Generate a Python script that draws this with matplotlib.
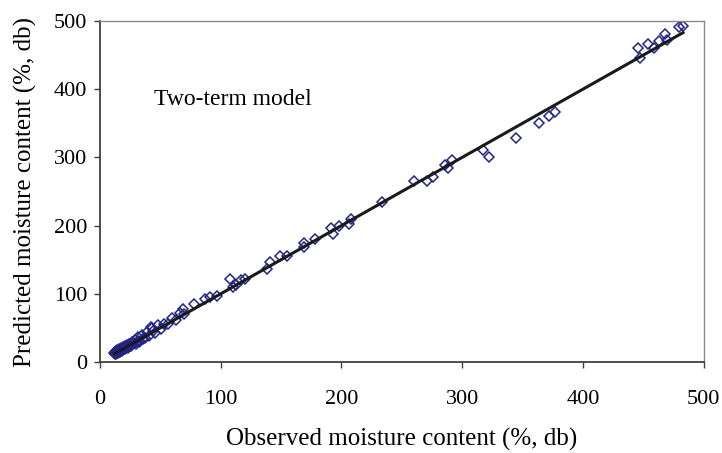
import matplotlib.pyplot as plt

plt.rcParams['font.family'] = ['Liberation Serif', 'DejaVu Serif']

# Observed vs predicted moisture content (%, db) for the two-term model
observed = [
    11.8, 12.2, 12.6, 13.0, 13.3, 13.7, 14.1, 14.5, 15.0, 15.4,
    15.9, 16.3, 16.8, 17.4, 18.0, 18.7, 19.5, 20.3, 21.2, 22.0,
    23.0, 24.1, 25.2, 26.4, 27.6, 28.9, 30.3, 31.8, 33.5, 35.2,
    37.0, 39.0, 41.0, 42.0, 43.2, 44.0, 45.5, 48.0, 50.5, 53.3,
    56.2, 59.5, 63.0, 66.5, 70.0,
    12.9, 14.8, 16.6, 18.4, 20.8, 23.6, 26.0, 29.5, 32.5, 36.0,
    69, 78, 87, 91, 97,
    108, 110, 113, 117, 120,
    138, 141, 149, 155, 169, 169, 178, 191, 193, 198, 206, 208,
    234, 260, 271, 276, 286, 288, 292, 317, 322, 345, 364, 372, 377,
    446, 447, 454, 459, 463, 468, 470, 480, 483,
]
predicted = [
    12.5, 14.0, 11.8, 15.5, 12.8, 17.0, 13.5, 16.0, 14.2, 18.5,
    15.0, 17.5, 16.0, 20.0, 17.2, 21.5, 18.6, 23.0, 20.2, 24.5,
    22.0, 27.0, 24.0, 29.5, 26.5, 32.0, 29.0, 36.0, 31.5, 39.0,
    35.5, 44.0, 38.5, 52.0, 50.0, 46.0, 43.0, 54.0, 48.0, 55.0,
    56.0, 64.0, 62.0, 72.0, 70.5,
    11.2, 13.0, 14.6, 16.4, 18.6, 21.0, 23.5, 26.8, 30.0, 33.2,
    77, 85, 92, 96, 97,
    121, 110, 113, 120, 121,
    137, 146, 155, 156, 168, 175, 180, 196, 188, 200, 203, 209,
    235, 266, 266, 271, 289, 285, 296, 311, 300, 329, 350, 361, 366,
    461, 446, 466, 461, 470, 481, 472, 491, 492,
]

fig = plt.figure(figsize=(7.22, 4.53), dpi=100)
ax = fig.add_axes([0.1385, 0.2009, 0.836, 0.7527])

ax.plot(observed, predicted, linestyle='none', marker='D', markersize=5.0,
        markerfacecolor='none', markeredgecolor='#23238a', markeredgewidth=1.1)

# 1:1 line over the observed range
lo, hi = min(observed), max(observed)
ax.plot([lo, hi], [lo, hi], color='#1a1a1a', linewidth=2.2)

ax.set_xlim(0, 500)
ax.set_ylim(0, 500)
ax.set_xticks(range(0, 501, 100))
ax.set_yticks(range(0, 501, 100))

for side in ['top', 'right']:
    ax.spines[side].set_color('#8a8a8a')
    ax.spines[side].set_linewidth(1.0)
for side in ['left', 'bottom']:
    ax.spines[side].set_color('#404040')
    ax.spines[side].set_linewidth(1.3)

ax.tick_params(direction='out', length=4, width=1.0, color='#404040',
               labelsize=16)
ax.tick_params(axis='x', pad=16)
ax.tick_params(axis='y', pad=5)

ax.set_xlabel('Observed moisture content (%, db)', fontsize=18, labelpad=14)
ax.set_ylabel('Predicted moisture content (%, db)', fontsize=18, labelpad=12)

ax.text(45, 385, 'Two-term model', fontsize=17, va='center', ha='left')

fig.savefig('out.png', dpi=100)
plt.close(fig)
